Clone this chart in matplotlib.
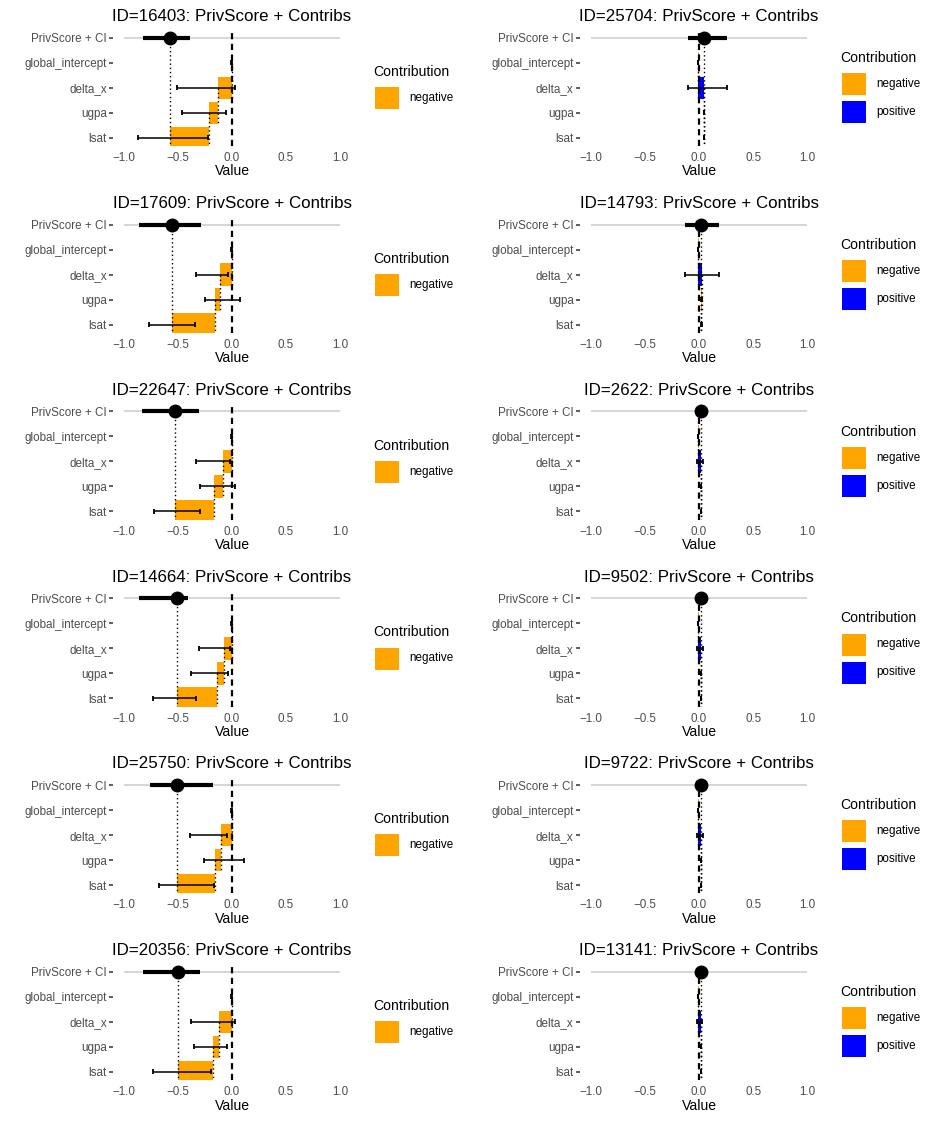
import numpy as np
import matplotlib
matplotlib.use("Agg")
import matplotlib.pyplot as plt
from matplotlib.patches import Rectangle

plt.rcParams['font.family'] = ['Liberation Sans', 'DejaVu Sans']

# ---------------- data ----------------
row_labels = ["PrivScore + CI", "global_intercept", "delta_x", "ugpa", "lsat"]
features = ["global_intercept", "delta_x", "ugpa", "lsat"]

left_ids = [16403, 17609, 22647, 14664, 25750, 20356]
right_ids = [25704, 14793, 2622, 9502, 9722, 13141]

# contributions per feature (global_intercept, delta_x, ugpa, lsat)
contrib = {
    16403: [-0.004, -0.129, -0.077, -0.367],
    17609: [-0.004, -0.104, -0.052, -0.396],
    22647: [-0.004, -0.082, -0.081, -0.364],
    14664: [-0.004, -0.070, -0.062, -0.374],
    25750: [-0.004, -0.101, -0.055, -0.346],
    20356: [-0.004, -0.113, -0.062, -0.321],
    25704: [-0.008, 0.058, -0.003, -0.003],
    14793: [-0.008, 0.033, -0.002, -0.001],
    2622:  [-0.008, 0.027, -0.001, -0.002],
    9502:  [-0.008, 0.026, -0.001, -0.002],
    9722:  [-0.008, 0.026, -0.001, -0.002],
    13141: [-0.008, 0.027, -0.001, -0.002],
}

# PrivScore confidence interval (low, high)
score_ci = {
    16403: (-0.824, -0.386),
    17609: (-0.864, -0.287),
    22647: (-0.833, -0.309),
    14664: (-0.861, -0.407),
    25750: (-0.756, -0.179),
    20356: (-0.821, -0.293),
    25704: (-0.105, 0.255),
    14793: (-0.134, 0.184),
    2622:  (0.008, 0.024),
    9502:  (0.008, 0.024),
    9722:  (0.008, 0.024),
    13141: (0.008, 0.024),
}

# contribution error bars: low/high per feature
err_low = {
    16403: [-0.006, -0.509, -0.460, -0.873],
    17609: [-0.006, -0.330, -0.247, -0.765],
    22647: [-0.006, -0.330, -0.300, -0.725],
    14664: [-0.006, -0.302, -0.383, -0.731],
    25750: [-0.006, -0.392, -0.256, -0.679],
    20356: [-0.006, -0.380, -0.349, -0.731],
    25704: [-0.010, -0.103, 0.043, 0.042],
    14793: [-0.010, -0.134, 0.021, 0.021],
    2622:  [-0.010, -0.018, 0.016, 0.015],
    9502:  [-0.010, -0.017, 0.016, 0.015],
    9722:  [-0.010, -0.017, 0.016, 0.015],
    13141: [-0.010, -0.015, 0.017, 0.016],
}
err_high = {
    16403: [-0.002, 0.025, -0.056, -0.225],
    17609: [-0.002, -0.037, 0.077, -0.340],
    22647: [-0.002, -0.015, 0.025, -0.300],
    14664: [-0.002, -0.022, -0.037, -0.333],
    25750: [-0.002, -0.046, 0.111, -0.170],
    20356: [-0.002, 0.031, -0.049, -0.191],
    25704: [-0.006, 0.256, 0.047, 0.046],
    14793: [-0.006, 0.184, 0.025, 0.024],
    2622:  [-0.006, 0.035, 0.019, 0.018],
    9502:  [-0.006, 0.034, 0.019, 0.018],
    9722:  [-0.006, 0.034, 0.019, 0.018],
    13141: [-0.006, 0.032, 0.020, 0.019],
}

ref_range = (-1.0, 1.0)
x_ticks = [-1.0, -0.5, 0.0, 0.5, 1.0]
sign_colors = {"negative": "#FFA500", "positive": "#0000FF"}

# ---------------- layout ----------------
W, H = 934, 1121
fig = plt.figure(figsize=(W / 100, H / 100), dpi=100)
pitch = H / 6.0
col_x = [(113.2, 350.8), (580.0, 818.0)]


def fig_rect(x0, x1, ytop, ybot):
    return [x0 / W, 1 - ybot / H, (x1 - x0) / W, (ybot - ytop) / H]


def draw_panel(col, k, pid):
    off = k * pitch
    x0, x1 = col_x[col]
    ax = fig.add_axes(fig_rect(x0, x1, off + 29.5, off + 146.0))
    vals = np.array(contrib[pid])
    ends = np.cumsum(vals)
    starts = ends - vals
    score = ends[-1]
    pos = np.arange(1, len(features) + 1)

    # reference grey line across the range
    ax.hlines(0, ref_range[0], ref_range[1], color="#CCCCCC", lw=1.1, zorder=1)

    # waterfall bars
    cols = [sign_colors["positive"] if v > 0 else sign_colors["negative"] for v in vals]
    ax.barh(pos, vals, left=starts, height=0.9, color=cols, linewidth=0, zorder=2)

    # error bars
    lo = np.array(err_low[pid])
    hi = np.array(err_high[pid])
    ax.hlines(pos, lo, hi, color="black", lw=1.1, zorder=4)
    ax.vlines(lo, pos - 0.1, pos + 0.1, color="black", lw=1.3, zorder=4)
    ax.vlines(hi, pos - 0.1, pos + 0.1, color="black", lw=1.3, zorder=4)

    # zero dashed line
    ax.axvline(0, color="black", lw=1.6, linestyle=(0, (2.8, 2.0)), zorder=5)

    # connectors
    for i in range(len(features) - 1):
        ax.vlines(ends[i], pos[i], pos[i + 1] + 0.45, color="black", lw=1.0,
                  linestyle=(0, (1, 2.0)), zorder=6)
    ax.vlines(score, 0, pos[-1] + 0.45, color="black", lw=1.0,
              linestyle=(0, (1, 2.0)), zorder=6)

    # score CI and point
    lo_ci, hi_ci = score_ci[pid]
    ax.hlines(0, lo_ci, hi_ci, color="black", lw=3.0, zorder=7)
    ax.plot([score], [0], "o", color="black", ms=9, zorder=8)

    ax.set_xlim(-1.1, 1.1)
    ax.set_ylim(4.33, -0.33)
    ax.set_yticks(range(len(row_labels)))
    ax.set_yticklabels(row_labels)
    ax.set_xticks(x_ticks)
    ax.set_xticklabels([f"{t:.1f}".replace("-", "\u2212") for t in x_ticks])
    for s in ax.spines.values():
        s.set_visible(False)
    ax.tick_params(axis="x", length=0, pad=4.4, labelsize=8.4, labelcolor="#4D4D4D")
    ax.tick_params(axis="y", length=2.9, width=1.1, color="#333333", pad=1.6,
                   labelsize=8.4, labelcolor="#4D4D4D")
    ax.set_xlabel("Value", fontsize=10.1, labelpad=0.2)
    ax.set_title(f"ID={pid}: PrivScore + Contribs", fontsize=12.2, pad=6.0)
    ax.patch.set_alpha(0)

    # legend
    present = [s for s in ["negative", "positive"]
               if any((v > 0) == (s == "positive") for v in vals)]
    n = len(present)
    lx = x1 + 22
    first_top = off + 87 - 14 * (n - 1)
    fig.text(lx / W, 1 - (first_top - 11) / H, "Contribution", fontsize=10.1,
             ha="left", va="baseline")
    for j, s in enumerate(present):
        ktop = first_top + 28 * j
        fig.add_artist(Rectangle(((lx + 2) / W, 1 - (ktop + 22) / H), 24 / W, 22 / H,
                                 transform=fig.transFigure, color=sign_colors[s], lw=0))
        fig.text((lx + 36) / W, 1 - (ktop + 11) / H, s, fontsize=8.4,
                 ha="left", va="center")


for k, pid in enumerate(left_ids):
    draw_panel(0, k, pid)
for k, pid in enumerate(right_ids):
    draw_panel(1, k, pid)

fig.savefig("out.png", dpi=100, facecolor="white")
